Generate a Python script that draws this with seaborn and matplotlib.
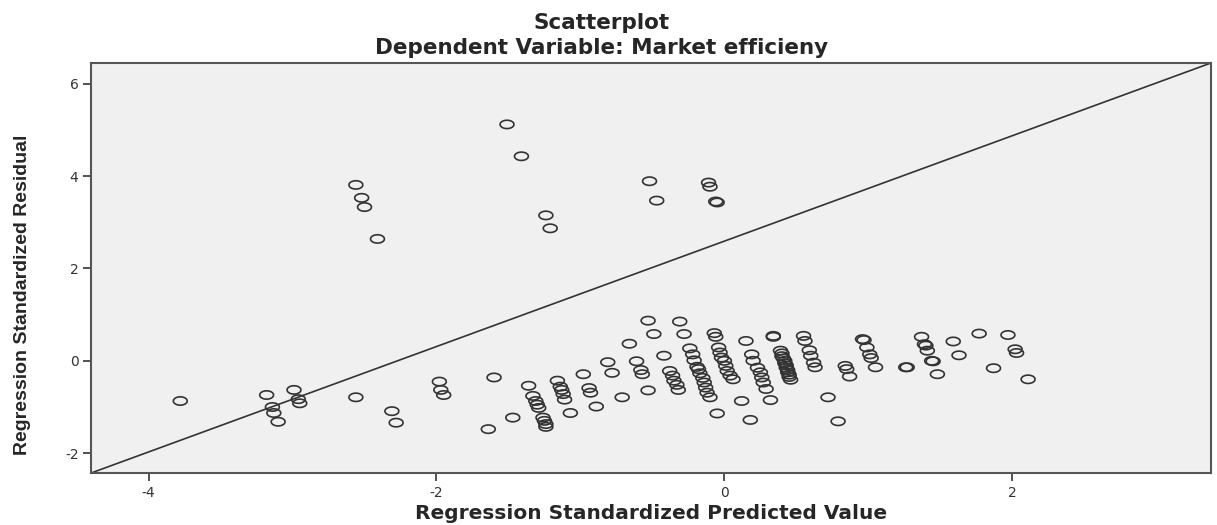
import numpy as np
import pandas as pd
import matplotlib
matplotlib.use("Agg")
import matplotlib.pyplot as plt
import seaborn as sns

# Values
pred = [-3.78, -3.18, -3.14, -3.13, -3.10, -2.99, -2.96, -2.95, -2.56, -2.31,
        -2.28, -1.98, -1.97, -1.95, -1.60, -1.64,
        -1.51, -1.41, -2.56, -2.52, -2.50, -2.41, -1.24, -1.21, -0.52, -0.47,
        -0.11, -0.10, -0.06, -0.05,
        -1.47, -1.36, -1.33, -1.31, -1.30, -1.29, -1.26, -1.25, -1.24, -1.24,
        -1.16, -1.14, -1.13, -1.12, -1.11, -1.07, -0.98, -0.94, -0.93, -0.89,
        -0.81, -0.78, -0.71, -0.66, -0.61, -0.58, -0.57, -0.53, -0.49, -0.53,
        -0.42, -0.38, -0.36, -0.35, -0.33, -0.32, -0.31, -0.28,
        -0.24, -0.22, -0.21, -0.19, -0.18, -0.17, -0.15, -0.14, -0.13, -0.12, -0.10,
        -0.07, -0.06, -0.05,
        -0.04, -0.03, -0.02, 0.00, 0.01, 0.02, 0.04, 0.06,
        0.15, 0.12, 0.18,
        0.19, 0.20, 0.23, 0.25, 0.26, 0.27, 0.29,
        0.32, 0.34, 0.34,
        0.39, 0.40, 0.40, 0.41, 0.42, 0.42, 0.43, 0.43, 0.44, 0.44, 0.45, 0.45, 0.46,
        0.55, 0.56, 0.59, 0.60, 0.62, 0.63, 0.72, 0.79, 0.84, 0.85, 0.87,
        0.96, 0.97, 0.99, 1.01, 1.02, 1.05, 1.26, 1.27,
        1.37, 1.39, 1.40, 1.41, 1.44, 1.45, 1.48, 1.59, 1.63, 1.77, 1.87,
        1.97, 2.02, 2.03, 2.11]
resid = [-0.87, -0.74, -1.00, -1.13, -1.32, -0.63, -0.83, -0.92, -0.79, -1.09,
         -1.34, -0.45, -0.63, -0.74, -0.36, -1.48,
         5.12, 4.43, 3.81, 3.53, 3.33, 2.64, 3.15, 2.87, 3.89, 3.47,
         3.86, 3.77, 3.45, 3.43,
         -1.23, -0.54, -0.76, -0.87, -0.95, -1.02, -1.23, -1.30, -1.37, -1.43,
         -0.43, -0.56, -0.63, -0.72, -0.84, -1.13, -0.29, -0.59, -0.69, -0.99,
         -0.03, -0.26, -0.79, 0.37, -0.01, -0.20, -0.29, 0.87, 0.58, -0.64,
         0.11, -0.22, -0.32, -0.43, -0.52, -0.63, 0.85, 0.58,
         0.27, 0.14, 0.01, -0.13, -0.18, -0.27, -0.37, -0.47, -0.58, -0.69, -0.79,
         0.60, 0.52, -1.14,
         0.29, 0.18, 0.07, 0.00, -0.11, -0.22, -0.32, -0.40,
         0.43, -0.87, -1.28,
         0.14, 0.00, -0.15, -0.25, -0.36, -0.47, -0.61,
         -0.85, 0.54, 0.52,
         0.22, 0.16, 0.10, 0.05, 0.00, -0.05, -0.10, -0.15, -0.20, -0.25, -0.30, -0.35, -0.41,
         0.54, 0.43, 0.23, 0.11, -0.04, -0.14, -0.79, -1.31, -0.11, -0.18, -0.34,
         0.47, 0.45, 0.29, 0.14, 0.06, -0.14, -0.14, -0.14,
         0.52, 0.36, 0.33, 0.22, 0.00, -0.01, -0.29, 0.42, 0.12, 0.59, -0.16,
         0.56, 0.25, 0.17, -0.40]

x_ticks = [-4, -2, 0, 2]
y_ticks = [-2, 0, 2, 4, 6]

df = pd.DataFrame({"pred": pred, "resid": resid})

sns.set_style("white")
plt.rcParams["font.family"] = ["DejaVu Sans"]
plt.rcParams["axes.unicode_minus"] = False

fig = plt.figure(figsize=(12.17, 5.25), dpi=100)
ax = fig.add_axes([0.0748, 0.099, 0.9202, 0.781])
ax.set_facecolor("#f0f0f0")

# open ellipse marker like SPSS
t = np.linspace(0, 2 * np.pi, 40)
ellipse = list(zip(np.cos(t), 0.6 * np.sin(t)))

sns.scatterplot(data=df, x="pred", y="resid", ax=ax, marker=ellipse, s=100,
                facecolors="none", edgecolor="#333333", linewidth=1.2)

ax.set_xlim(-4.40, 3.38)
ax.set_ylim(-2.43, 6.45)
ax.axline((0, 0), (1, 1), transform=ax.transAxes, color="#333333", lw=1.2)

ax.set_xticks(x_ticks)
ax.set_yticks(y_ticks)
ax.tick_params(axis="both", direction="out", length=6, width=1.2, color="#333333",
               labelsize=10, labelcolor="#333333", bottom=True, left=True, pad=3)
for sp in ax.spines.values():
    sp.set_color("#555555")
    sp.set_linewidth(1.5)

ax.set_xlabel("Regression Standardized Predicted Value", fontsize=14.5,
              fontweight="bold", labelpad=3)
ax.set_ylabel("Regression Standardized Residual", fontsize=14, fontweight="bold",
              family=["Liberation Sans", "DejaVu Sans"])
ax.yaxis.set_label_coords(-0.054, 0.434)

fig.text(0.494, 0.957, "Scatterplot", ha="center", va="center",
         fontsize=15.5, fontweight="bold")
fig.text(0.494, 0.908, "Dependent Variable: Market efficieny", ha="center",
         va="center", fontsize=15.5, fontweight="bold")

fig.savefig("out.png", dpi=100)
